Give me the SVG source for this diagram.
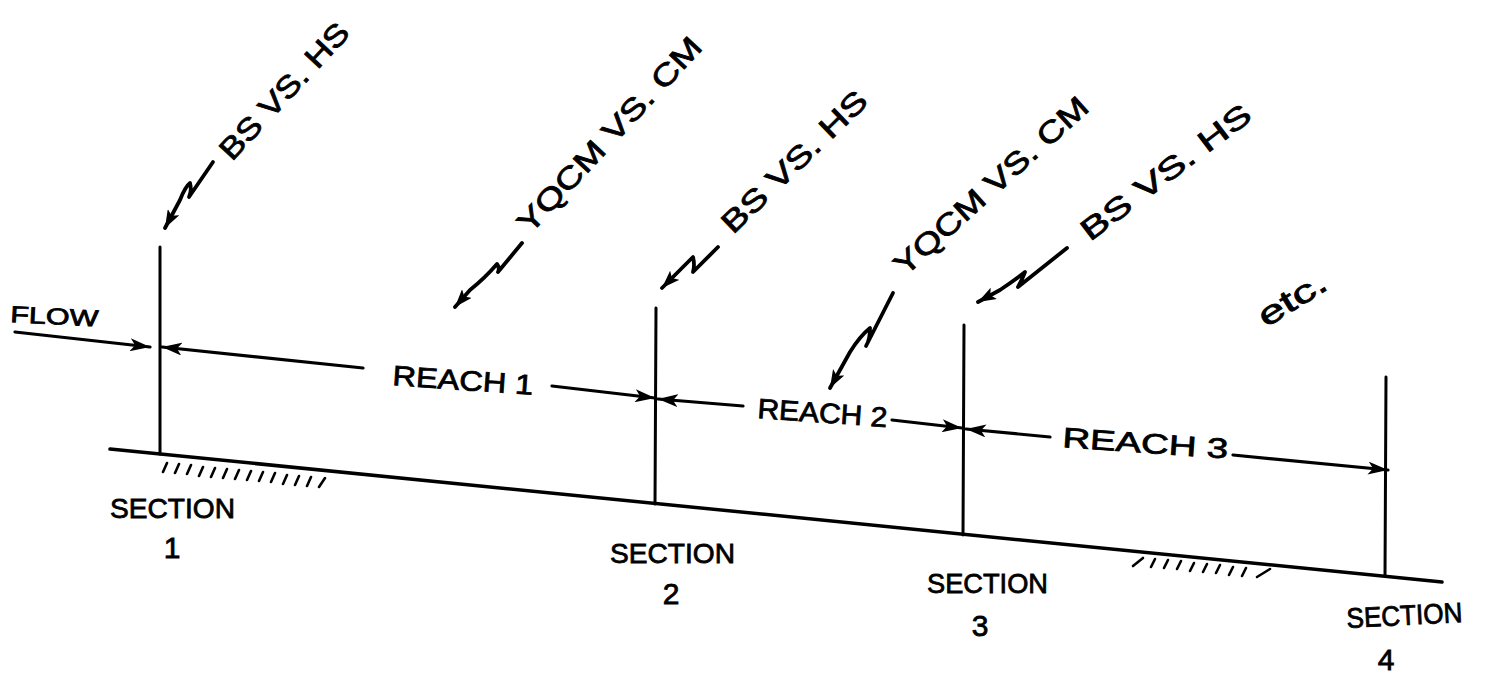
<svg xmlns="http://www.w3.org/2000/svg" width="1489" height="676" viewBox="0 0 1489 676">
<defs>
<style>
.ln{stroke:#000;stroke-width:3;fill:none;stroke-linecap:round;stroke-linejoin:round}
.gr{stroke:#000;stroke-width:3.5;fill:none;stroke-linecap:round}
.ar{stroke:#000;stroke-width:3.2;fill:none;stroke-linecap:round}
.hatch{stroke:#000;stroke-width:2.6;fill:none;stroke-linecap:round}
.sq{stroke:#000;stroke-width:3.8;fill:none;stroke-linecap:round;stroke-linejoin:round}
.t{font-family:"Liberation Sans",Arial,sans-serif;fill:#000;stroke:#000;stroke-width:0.8}
.lab{font-size:30px}
.sec{font-size:28px}
.num{font-size:30px}
</style>
<marker id="ah" viewBox="0 0 20 13" refX="20" refY="6.5" markerWidth="20" markerHeight="13" markerUnits="userSpaceOnUse" orient="auto">
<path d="M0,0 L20,6.5 L0,13 L5,6.5 z" fill="#000"/>
</marker>
<marker id="ahs" viewBox="0 0 18 13" refX="18" refY="6.5" markerWidth="18" markerHeight="13" markerUnits="userSpaceOnUse" orient="auto-start-reverse">
<path d="M0,0 L18,6.5 L0,13 L4,6.5 z" fill="#000"/>
</marker>
</defs>
<rect width="1489" height="676" fill="#fff"/>

<g id="channel-bed">
<path class="gr" d="M110,449 L1442,582"/>
<path class="hatch" d="M163,472 L167,463 M175,473 L179,464 M187,474 L191,465 M199,476 L203,467 M211,477 L215,468 M223,478 L227,469 M235,479 L239,470 M247,480 L251,471 M259,481 L263,472 M271,482 L275,473 M283,484 L287,475 M295,485 L299,476 M307,486 L311,477 M319,487 L325,478"/>
<path class="hatch" d="M1133,566 L1143,558 M1151,567 L1155,559 M1164,568 L1168,560 M1177,569 L1181,561 M1190,571 L1194,563 M1203,572 L1207,564 M1216,573 L1220,565 M1229,575 L1233,567 M1242,576 L1246,568 M1257,577 L1270,569"/>
</g>

<g id="section-1">
<path class="ln" d="M160,247 L160,454"/>
<text class="t sec" x="110" y="518" textLength="125" lengthAdjust="spacingAndGlyphs">SECTION</text>
<text class="t num" x="172" y="558" text-anchor="middle">1</text>
</g>
<g id="section-2">
<path class="ln" d="M656,308 L655,504"/>
<text class="t sec" x="610" y="563" textLength="125" lengthAdjust="spacingAndGlyphs">SECTION</text>
<text class="t num" x="671" y="604" text-anchor="middle">2</text>
</g>
<g id="section-3">
<path class="ln" d="M964,325 L963,535"/>
<text class="t sec" x="927" y="593" textLength="121" lengthAdjust="spacingAndGlyphs">SECTION</text>
<text class="t num" x="980" y="636" text-anchor="middle">3</text>
</g>
<g id="section-4">
<path class="ln" d="M1386,377 L1385,576"/>
<text class="t sec" x="1347" y="628" textLength="116" lengthAdjust="spacingAndGlyphs" transform="rotate(-3 1347 628)">SECTION</text>
<text class="t num" x="1386" y="670" text-anchor="middle">4</text>
</g>

<g id="flow-label">
<text class="t" style="font-size:23px" x="10" y="322" textLength="88" lengthAdjust="spacingAndGlyphs" transform="rotate(3 10 322)">FLOW</text>
</g>

<g id="reach-labels">
<text class="t sec" x="392" y="385" textLength="141" lengthAdjust="spacingAndGlyphs" transform="rotate(4 392 385)">REACH  1</text>
<text class="t sec" x="757" y="418" textLength="130" lengthAdjust="spacingAndGlyphs" transform="rotate(4 757 418)">REACH 2</text>
<text class="t sec" x="1062" y="447" textLength="166" lengthAdjust="spacingAndGlyphs" transform="rotate(4 1062 447)">REACH  3</text>
</g>

<g id="property-labels">
<text class="t lab" x="232" y="162" textLength="175" lengthAdjust="spacingAndGlyphs" transform="rotate(-47 232 162)">BS VS. HS</text>
<text class="t lab" x="530" y="235" textLength="255" lengthAdjust="spacingAndGlyphs" transform="rotate(-47 530 235)">YQCM VS. CM</text>
<text class="t lab" x="733" y="235" textLength="190" lengthAdjust="spacingAndGlyphs" transform="rotate(-44 733 235)">BS VS. HS</text>
<text class="t lab" x="905" y="277" textLength="250" lengthAdjust="spacingAndGlyphs" transform="rotate(-42 905 277)">YQCM VS. CM</text>
<text class="t lab" x="1090" y="242" textLength="205" lengthAdjust="spacingAndGlyphs" transform="rotate(-37 1090 242)">BS VS. HS</text>
<text class="t" style="font-size:32px" x="1266" y="328" textLength="75" lengthAdjust="spacingAndGlyphs" transform="rotate(-32 1266 328)">etc.</text>
</g>

<g id="connectors">
<path class="ar" d="M15,332 L150,347" marker-end="url(#ah)"/>
<path class="ar" d="M363,368 L162,347" marker-end="url(#ah)"/>
<path class="ar" d="M552,386 L655,398" marker-end="url(#ah)"/>
<path class="ar" d="M743,406 L658,399" marker-end="url(#ah)"/>
<path class="ar" d="M892,420 L962,428" marker-end="url(#ah)"/>
<path class="ar" d="M1050,437 L966,429" marker-end="url(#ah)"/>
<path class="ar" d="M1233,455 L1388,470" marker-end="url(#ah)"/>
<path class="sq" d="M165,228 L180,200 Q185,187 190,183 Q192,190 189,197 L213,162" marker-start="url(#ahs)"/>
<path class="sq" d="M455,307 L470,290 Q485,278 497,264 Q500,268 498,272 L522,243" marker-start="url(#ahs)"/>
<path class="sq" d="M662,288 L677,273 Q686,264 693,257 Q695,265 693,272 L718,247" marker-start="url(#ahs)"/>
<path class="sq" d="M830,388 L850,352 Q860,336 870,328 Q870,340 866,346 L893,293" marker-start="url(#ahs)"/>
<path class="sq" d="M978,302 L1000,290 Q1015,280 1025,272 Q1022,280 1018,287 L1067,248" marker-start="url(#ahs)"/>
</g>
</svg>
